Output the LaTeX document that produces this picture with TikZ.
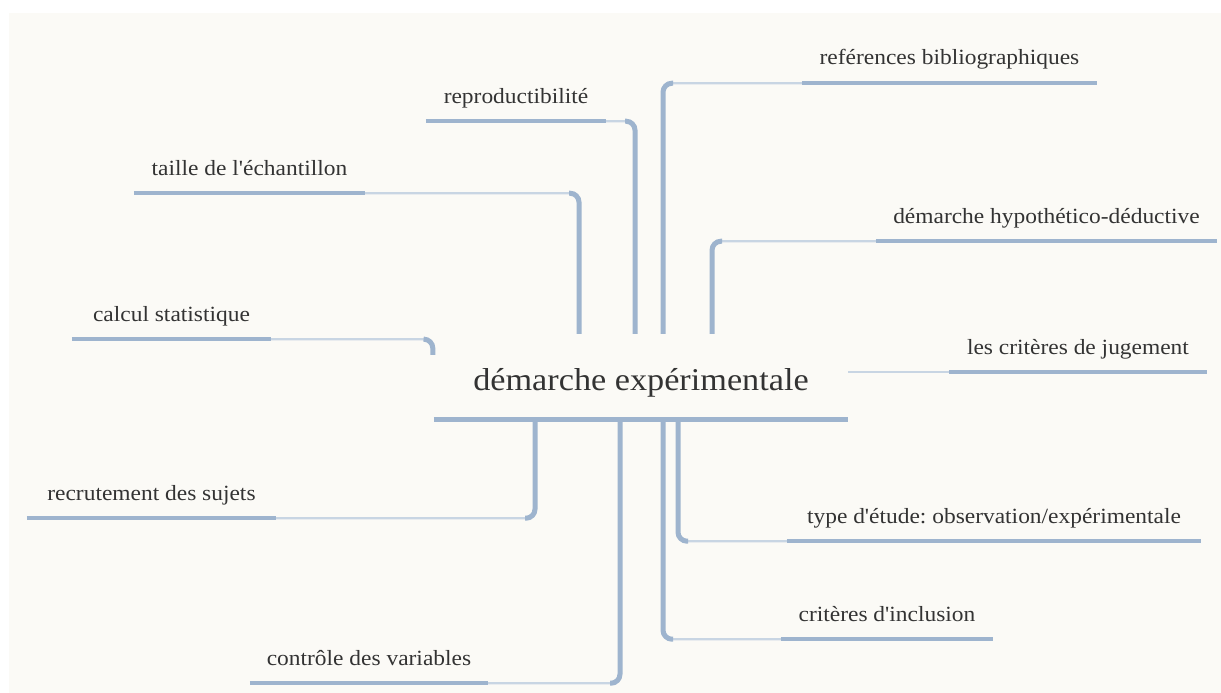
\documentclass[tikz,border=0pt]{standalone}
\usepackage{fontspec}
\usetikzlibrary{calc}
\newfontfamily\mapserif[FakeStretch=1.08]{Liberation Serif}
\definecolor{paper}{HTML}{FBFAF6}
\definecolor{branch}{HTML}{9EB4CE}
\definecolor{twig}{HTML}{C8D5E3}
\definecolor{ink}{HTML}{333333}
\frenchspacing
\begin{document}
\begin{tikzpicture}[x=1pt,y=-1pt,
  lbl/.style={font=\mapserif\fontsize{21.7}{26}\selectfont, text=ink,
    inner xsep=0pt, inner ysep=0pt, text height=16pt, text depth=18pt, anchor=base},
  hub/.style={font=\mapserif\fontsize{31.7}{38}\selectfont, text=ink,
    inner xsep=0pt, inner ysep=0pt, text height=56pt, text depth=29pt, anchor=base},
  uline/.style={draw=branch, line width=4pt},
  hubline/.style={draw=branch, line width=5pt},
  trunk/.style={draw=branch, line width=5pt, rounded corners=9pt},
  conn/.style={draw=twig, line width=2.2pt, rounded corners=9pt}]
  % page
  \useasboundingbox (0,0) rectangle (1221,693);
  \fill[white] (0,0) rectangle (1221,693);
  \fill[paper] (9,13) rectangle (1221,693);

  % central topic
  \node[hub, minimum width=414pt] (c) at (641,390) {démarche expérimentale};
  \draw[hubline] (c.south west) -- (c.south east);

  % subtopics
  \node[lbl, minimum width=180pt] (repro) at (516,103) {reproductibilité};
  \node[lbl, minimum width=231pt] (taille) at (249.5,175) {taille de l'échantillon};
  \node[lbl, minimum width=295pt] (refs) at (949.5,65) {reférences bibliographiques};
  \node[lbl, minimum width=341pt] (hypo) at (1046.5,223) {démarche hypothético-déductive};
  \node[lbl, minimum width=199pt] (calc) at (171.5,321) {calcul statistique};
  \node[lbl, minimum width=258pt] (jug) at (1078,354) {les critères de jugement};
  \node[lbl, minimum width=249pt] (recr) at (151.5,500) {recrutement des sujets};
  \node[lbl, minimum width=238pt] (ctrl) at (369,665) {contrôle des variables};
  \node[lbl, minimum width=414pt] (type) at (994,523) {type d'étude: observation/expérimentale};
  \node[lbl, minimum width=212pt] (incl) at (887,621) {critères d'inclusion};

  \foreach \n in {repro,taille,refs,hypo,calc,jug,recr,ctrl,type,incl}
    \draw[uline] (\n.south west) -- (\n.south east);

  % trunk positions
  \coordinate (xt) at (579,0);
  \coordinate (xr) at (635,0);
  \coordinate (xb) at (663,0);
  \coordinate (xh) at (712,0);
  \coordinate (xs) at (535,0);
  \coordinate (xc) at (620,0);
  \coordinate (xi) at (663,0);
  \coordinate (xe) at (678,0);
  \coordinate (hook) at ($(c.north west)+(-1,21)$);

  % connectors above the hub
  \draw[conn] (taille.south east) -| (xt |- c.north);
  \draw[trunk] (xt |- c.north) -- (xt |- taille.south) -- ++(-10,0);
  \draw[conn] (repro.south east) -| (xr |- c.north);
  \draw[trunk] (xr |- c.north) -- (xr |- repro.south) -- ++(-10,0);
  \draw[conn] (refs.south west) -| (xb |- c.north);
  \draw[trunk] (xb |- c.north) -- (xb |- refs.south) -- ++(10,0);
  \draw[conn] (hypo.south west) -| (xh |- c.north);
  \draw[trunk] (xh |- c.north) -- (xh |- hypo.south) -- ++(10,0);
  \draw[conn] (calc.south east) -| (hook);
  \draw[trunk] (hook) -- (hook |- calc.south) -- ++(-8,0);

  % connector to the right
  \draw[draw=twig, line width=2.2pt] (c.east |- jug.south) -- (jug.south west);

  % connectors below the hub
  \draw[conn] (recr.south east) -| (xs |- c.south);
  \draw[trunk] (xs |- c.south) -- (xs |- recr.south) -- ++(-10,0);
  \draw[conn] (ctrl.south east) -| (xc |- c.south);
  \draw[trunk] (xc |- c.south) -- (xc |- ctrl.south) -- ++(-10,0);
  \draw[conn] (incl.south west) -| (xi |- c.south);
  \draw[trunk] (xi |- c.south) -- (xi |- incl.south) -- ++(10,0);
  \draw[conn] (type.south west) -| (xe |- c.south);
  \draw[trunk] (xe |- c.south) -- (xe |- type.south) -- ++(10,0);
\end{tikzpicture}
\end{document}
